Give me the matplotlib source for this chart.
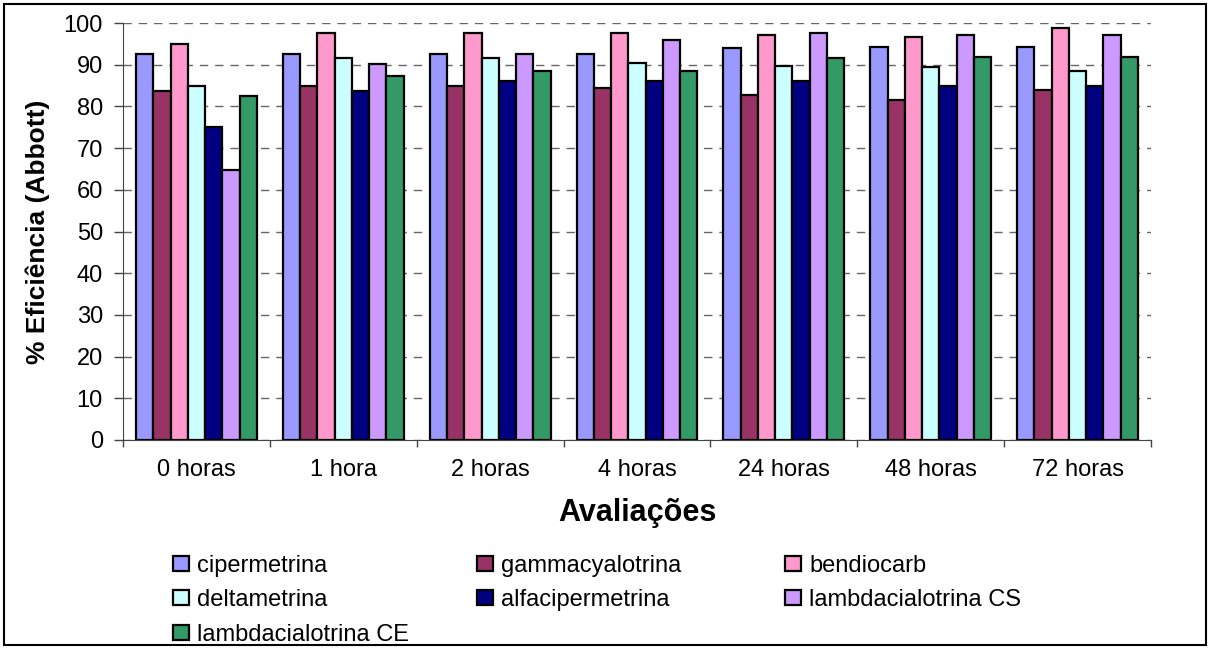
import matplotlib
matplotlib.use("Agg")
import matplotlib.pyplot as plt
from matplotlib.patches import Rectangle
import numpy as np

plt.rcParams["font.family"] = ["Liberation Sans", "DejaVu Sans"]

# data
avaliacoes = ["0 horas", "1 hora", "2 horas", "4 horas", "24 horas", "48 horas", "72 horas"]
produtos = ["cipermetrina", "gammacyalotrina", "bendiocarb", "deltametrina",
            "alfacipermetrina", "lambdacialotrina CS", "lambdacialotrina CE"]
cipermetrina = [92.6, 92.6, 92.6, 92.6, 93.9, 94.3, 94.3]
gammacyalotrina = [83.6, 84.9, 84.9, 84.5, 82.8, 81.6, 84.0]
bendiocarb = [95.0, 97.5, 97.5, 97.5, 97.1, 96.7, 98.8]
deltametrina = [84.9, 91.5, 91.5, 90.5, 89.8, 89.4, 88.5]
alfacipermetrina = [75.0, 83.6, 86.1, 86.1, 86.1, 84.9, 84.9]
lambda_cs = [64.8, 90.1, 92.6, 96.0, 97.5, 97.1, 97.1]
lambda_ce = [82.5, 87.3, 88.5, 88.5, 91.5, 91.8, 91.8]
series = [cipermetrina, gammacyalotrina, bendiocarb, deltametrina,
          alfacipermetrina, lambda_cs, lambda_ce]
cores = ["#9999FF", "#993366", "#FF99CC", "#CCFFFF", "#000080", "#CC99FF", "#339966"]

W, H = 1208, 648
fig = plt.figure(figsize=(W / 100, H / 100), dpi=100)
ax = fig.add_axes([123 / W, 1 - 440 / H, (1151 - 123) / W, (440 - 23) / H])

x = np.arange(len(avaliacoes))
bw = 1 / 8.5
bars = []
for i, (vals, c) in enumerate(zip(series, cores)):
    b = ax.bar(x + (i - 3) * bw, vals, bw, color=c, edgecolor="black",
               linewidth=1.6, zorder=3, label=produtos[i])
    bars.append(b)

ax.set_xlim(-0.5, len(avaliacoes) - 0.5)
ax.set_ylim(0, 100)
ax.set_yticks(np.arange(0, 101, 10))
ax.yaxis.grid(True, linestyle=(0, (6, 5)), color="#666666", linewidth=1, zorder=0)
ax.set_axisbelow(True)

# ticks on category boundaries, labels at centres
ax.set_xticks(np.arange(-0.5, len(avaliacoes), 1))
ax.set_xticklabels([])
ax.set_xticks(x, minor=True)
ax.set_xticklabels(avaliacoes, minor=True, fontsize=17)
ax.tick_params(axis="x", which="major", direction="out", length=5, width=1, color="#444444")
ax.tick_params(axis="x", which="minor", length=0, pad=14)
ax.tick_params(axis="y", direction="out", length=6.5, width=1, pad=8, labelsize=17,
               color="#444444")

for s in ("top", "right"):
    ax.spines[s].set_visible(False)
ax.spines["left"].set_color("#444444")
ax.spines["bottom"].set_color("#444444")

ax.set_ylabel("% Eficiência (Abbott)", fontsize=19, fontweight="bold")
ax.yaxis.set_label_coords(-0.071, 0.5)
ax.set_xlabel("Avaliações", fontsize=22, fontweight="bold")
ax.xaxis.set_label_coords(0.5, -0.14)

# legend laid out in three columns, row-major like the original
colunas = [([0, 3, 6], 173), ([1, 4], 477), ([2, 5], 785)]
for idx, xpix in colunas:
    leg = fig.legend([bars[i] for i in idx], [produtos[i] for i in idx],
                     loc="upper left", bbox_to_anchor=(xpix / W, 1 - 555 / H),
                     frameon=False, fontsize=17, borderpad=0, borderaxespad=0,
                     handlelength=0.68, handleheight=0.6, handletextpad=0.34,
                     labelspacing=0.52)

fig.patches.append(Rectangle((4 / W, 3 / H), (1206 - 4) / W, (644 - 3) / H,
                             transform=fig.transFigure, fill=False,
                             edgecolor="black", linewidth=1.5))

fig.savefig("out.png", dpi=100)
